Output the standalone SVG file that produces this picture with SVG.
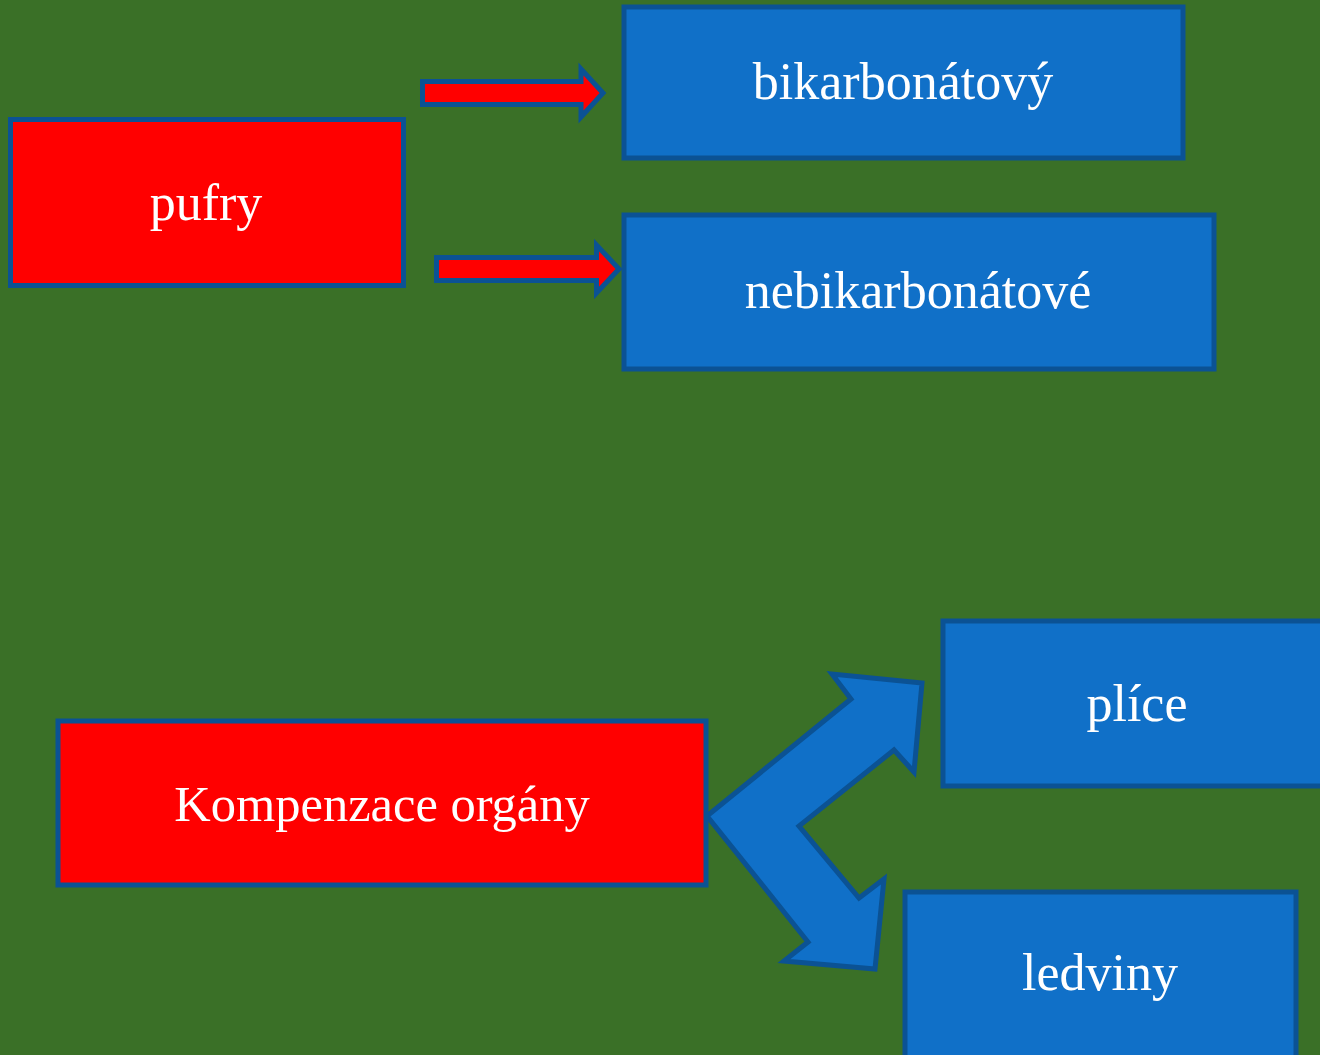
<svg xmlns="http://www.w3.org/2000/svg" width="1320" height="1055" viewBox="0 0 1320 1055">
<style>
.red{fill:#ff0000;stroke:#0b5294;stroke-width:5}
.blue{fill:#1070c8;stroke:#0b5294;stroke-width:5}
.lbl{font-family:"Liberation Serif","DejaVu Serif",serif;font-size:52px;fill:#ffffff;text-anchor:middle}
</style>
<rect width="1320" height="1055" fill="#3a7027"/>
<g id="connectors">
<path id="arrow1" class="red" d="M422.5,81.5 H581 V69 L603,93 L581,117 V104.5 H422.5 Z"/>
<path id="arrow2" class="red" d="M436.5,257.5 H596.5 V245 L619,269 L596.5,293 V280.5 H436.5 Z"/>
<path id="bent-arrow" class="blue" d="M707,816 L851,699 L832,674 L922,683 L914,772 L894,750 L799,826 L859,898 L884,879 L875,969 L784,961 L808,942 Z"/>
</g>
<g id="pufry"><rect class="red" x="10.5" y="119.5" width="393" height="166"/><text class="lbl" x="206" y="220">pufry</text></g>
<g id="bikarbonatovy"><rect class="blue" x="624" y="7" width="559" height="151"/><text class="lbl" x="903" y="99">bikarbonátový</text></g>
<g id="nebikarbonatove"><rect class="blue" x="624" y="215" width="590" height="154"/><text class="lbl" x="918" y="308">nebikarbonátové</text></g>
<g id="kompenzace"><rect class="red" x="58" y="721" width="648" height="164"/><text class="lbl" x="382" y="821" style="font-size:50.5px">Kompenzace orgány</text></g>
<g id="plice"><rect class="blue" x="943" y="621" width="395" height="165"/><text class="lbl" x="1137" y="721">plíce</text></g>
<g id="ledviny"><rect class="blue" x="905" y="892" width="391" height="180"/><text class="lbl" x="1100" y="990">ledviny</text></g>
</svg>
